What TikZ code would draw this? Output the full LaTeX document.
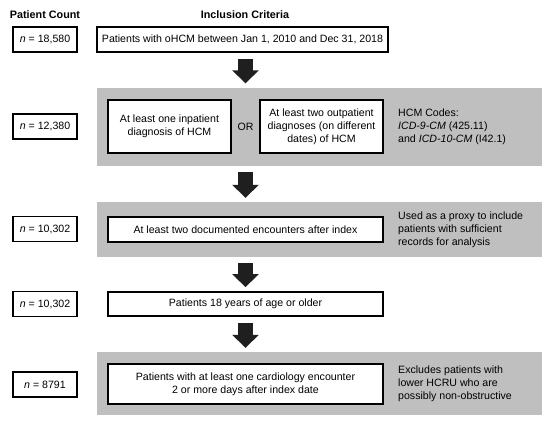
\documentclass[tikz,border=0pt]{standalone}
\usepackage{fontspec}
\setmainfont{Liberation Sans}
\usetikzlibrary{arrows.meta}

\begin{document}
\begin{tikzpicture}[x=1pt, y=-1pt, font=\fontsize{10.6}{13}\selectfont,
		nbox/.style={draw, line width=1.8pt, minimum width=64pt, minimum height=25pt, inner sep=0pt},
		critbox/.style={draw, line width=1.8pt, fill=white, align=center, inner sep=0pt},
		graybox/.style={fill=black!25, minimum width=445pt, inner sep=0pt},
		sidetext/.style={anchor=west, align=left, inner sep=0pt},
		header/.style={font=\fontsize{10.8}{13}\selectfont\bfseries},
		bigarrow/.style={line width=15pt, draw=black!88, -{Triangle[length=13pt, width=26pt]}, shorten <=6pt, shorten >=4pt}]
		\useasboundingbox (0,0) rectangle (550,424);
		\coordinate (col) at (245.5,0);
		% headers
		\node[header] (hcount) at (45,15) {Patient Count};
		\node[header] (hcrit) at (245,15) {Inclusion Criteria};
		% gray panels
		\node[graybox, minimum height=78pt] (g2) at (319.5,126.5) {};
		\node[graybox, minimum height=55pt] (g3) at (319.5,229.5) {};
		\node[graybox, minimum height=63pt] (g5) at (319.5,383.5) {};
		% criteria
		\node[critbox, minimum width=291pt, minimum height=25pt] (b1) at (242.5,39.5) {Patients with oHCM between Jan 1, 2010 and Dec 31, 2018};
		\node[critbox, minimum width=123pt, minimum height=53pt] (b2a) at (169.5,126.5) {At least one inpatient\\diagnosis of HCM};
		\node (or) at (245.5,126.5) {OR};
		\node[critbox, minimum width=123pt, minimum height=53pt] (b2b) at (321.5,126.5) {At least two outpatient\\diagnoses (on different\\dates) of HCM};
		\node[critbox, minimum width=275pt, minimum height=25pt] (b3) at (245.5,229.5) {At least two documented encounters after index};
		\node[critbox, minimum width=275pt, minimum height=24pt] (b4) at (245.5,304) {Patients 18 years of age or older};
		\node[critbox, minimum width=275pt, minimum height=40pt] (b5) at (245.5,384) {Patients with at least one cardiology encounter\\2 or more days after index date};
		% notes
		\node[sidetext] (s2) at (398,126.5) {HCM Codes:\\\textit{ICD-9-CM} (425.11)\\and \textit{ICD-10-CM} (I42.1)};
		\node[sidetext] (s3) at (398,229.5) {Used as a proxy to include\\patients with sufficient\\records for analysis};
		\node[sidetext] (s5) at (398,384) {Excludes patients with\\lower HCRU who are\\possibly non-obstructive};
		% counts
		\node[nbox] (n1) at (45,39.5) {\textit{n} = 18,580};
		\node[nbox] (n2) at (45,126.5) {\textit{n} = 12,380};
		\node[nbox] (n3) at (45,229) {\textit{n} = 10,302};
		\node[nbox] (n4) at (45,304) {\textit{n} = 10,302};
		\node[nbox] (n5) at (45,384.5) {\textit{n} = 8791};
		% arrows
		\draw[bigarrow] (b1.south -| col) -- (g2.north -| col);
		\draw[bigarrow] (g2.south -| col) -- (g3.north -| col);
		\draw[bigarrow] (g3.south -| col) -- (b4.north -| col);
		\draw[bigarrow] (b4.south -| col) -- (g5.north -| col);
	\end{tikzpicture}
\end{document}
